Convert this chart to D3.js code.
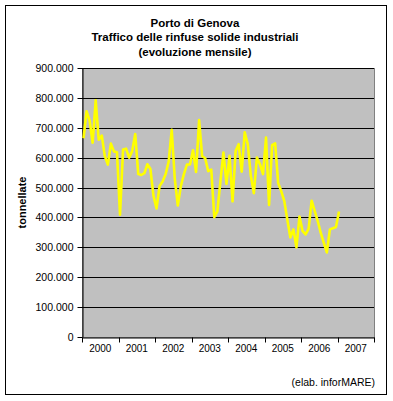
<!DOCTYPE html>
<html>
<head>
<meta charset="utf-8">
<script src="https://cdn.jsdelivr.net/npm/d3@7"></script>
<style>
  html, body { margin: 0; padding: 0; background: #fff; }
  svg { display: block; }
  text { font-family: "Liberation Sans", Arial, sans-serif; fill: #000; }
</style>
</head>
<body>
<svg id="chart" width="393" height="401"></svg>
<script>
// ---- data ----
const titleLines = ["Porto di Genova", "Traffico delle rinfuse solide industriali", "(evoluzione mensile)"];
const yAxisTitle = "tonnellate";
const sourceNote = "(elab. inforMARE)";
const years = ["2000", "2001", "2002", "2003", "2004", "2005", "2006", "2007"];
const yTicks = [0, 100000, 200000, 300000, 400000, 500000, 600000, 700000, 800000, 900000];
// monthly tonnes, Jan 2000 .. Jan 2007
const tonnes2000 = [665000, 755000, 725000, 650000, 792000, 660000, 674000, 605000, 577000, 647000, 621000, 618000];
const tonnes2001 = [409000, 627000, 630000, 600000, 622000, 679000, 545000, 542000, 548000, 578000, 562000, 472000];
const tonnes2002 = [430000, 505000, 520000, 545000, 587000, 693000, 530000, 440000, 505000, 545000, 577000, 577000];
const tonnes2003 = [625000, 552000, 726000, 605000, 598000, 555000, 560000, 401000, 420000, 520000, 617000, 512000];
const tonnes2004 = [606000, 454000, 622000, 645000, 553000, 685000, 645000, 540000, 481000, 600000, 578000, 545000];
const tonnes2005 = [667000, 442000, 642000, 648000, 515000, 488000, 455000, 393000, 333000, 360000, 300000, 403000];
const tonnes2006 = [355000, 343000, 362000, 456000, 422000, 388000, 348000, 315000, 283000, 360000, 364000, 368000];
const tonnes2007 = [420000];
const series = [].concat(tonnes2000, tonnes2001, tonnes2002, tonnes2003, tonnes2004, tonnes2005, tonnes2006, tonnes2007);

// ---- layout ----
const svg = d3.select("#chart");
const plot = { left: 82, right: 374, top: 68, bottom: 337 };
const monthsPerYear = 12;
const totalMonths = years.length * monthsPerYear;

const x = d3.scaleLinear().domain([0, totalMonths]).range([plot.left, plot.right]);
const y = d3.scaleLinear().domain([0, 900000]).range([plot.bottom, plot.top]);

const locale = d3.formatLocale({ decimal: ",", thousands: ".", grouping: [3], currency: ["", ""] });
const fmt = locale.format(",.0f");

// outer frame
svg.append("rect").attr("x", 5.5).attr("y", 5.5).attr("width", 381).attr("height", 389)
  .attr("fill", "#fff").attr("stroke", "#000").attr("stroke-width", 1);

// title
const title = svg.append("text").attr("text-anchor", "middle")
  .style("font-weight", "bold").style("font-size", "11.5px");
titleLines.forEach((t, i) => {
  title.append("tspan").attr("x", 195).attr("y", 27 + i * 14.3).text(t);
});

// plot area
svg.append("rect").attr("x", plot.left).attr("y", plot.top)
  .attr("width", plot.right - plot.left).attr("height", plot.bottom - plot.top)
  .attr("fill", "#c0c0c0").attr("stroke", "#808080").attr("stroke-width", 1)
  .attr("shape-rendering", "crispEdges");

// gridlines
svg.append("g").selectAll("line").data(yTicks.filter(d => d > 0)).join("line")
  .attr("x1", plot.left).attr("x2", plot.right)
  .attr("y1", d => Math.round(y(d)) + 0.5).attr("y2", d => Math.round(y(d)) + 0.5)
  .attr("stroke", "#000").attr("stroke-width", 1);

// y axis
const yAxis = d3.axisLeft(y).tickValues(yTicks).tickFormat(fmt).tickSize(5).tickSizeOuter(0).tickPadding(4);
const gy = svg.append("g").attr("transform", `translate(${plot.left + 0.5},0)`).call(yAxis);
gy.selectAll("text").style("font-size", "10.5px").style("font-family", "'Liberation Sans', Arial, sans-serif");
gy.selectAll("line,path").attr("stroke", "#000");
gy.selectAll(".tick").attr("transform", d => `translate(0,${Math.round(y(d)) + 0.5})`);

// x axis: ticks at year boundaries, labels centred in year bands
const boundaryTicks = d3.range(0, totalMonths + 1, monthsPerYear);
const xAxis = d3.axisBottom(x).tickValues(boundaryTicks).tickFormat("").tickSize(5).tickSizeOuter(0);
const gx = svg.append("g").attr("transform", `translate(0,${plot.bottom + 0.5})`).call(xAxis);
gx.selectAll("line,path").attr("stroke", "#000");
gx.selectAll(".tick").attr("transform", d => `translate(${Math.round(x(d)) + 0.5},0)`);

svg.append("g").selectAll("text").data(years).join("text")
  .attr("x", (d, i) => x(i * monthsPerYear + monthsPerYear / 2))
  .attr("y", 352)
  .attr("text-anchor", "middle")
  .style("font-size", "10px")
  .text(d => d);

// y axis title
svg.append("text")
  .attr("transform", `translate(26,${(plot.top + plot.bottom) / 2}) rotate(-90)`)
  .attr("text-anchor", "middle")
  .style("font-weight", "bold").style("font-size", "11px")
  .text(yAxisTitle);

// line
const line = d3.line().x((d, i) => x(i + 0.5)).y(d => y(d));
svg.append("path").datum(series)
  .attr("d", line)
  .attr("fill", "none")
  .attr("stroke", "#ffff00")
  .attr("stroke-width", 2.6)
  .attr("stroke-linejoin", "round");

// source note
svg.append("text").attr("x", 375).attr("y", 386).attr("text-anchor", "end")
  .style("font-size", "10.5px").text(sourceNote);
</script>
</body>
</html>
